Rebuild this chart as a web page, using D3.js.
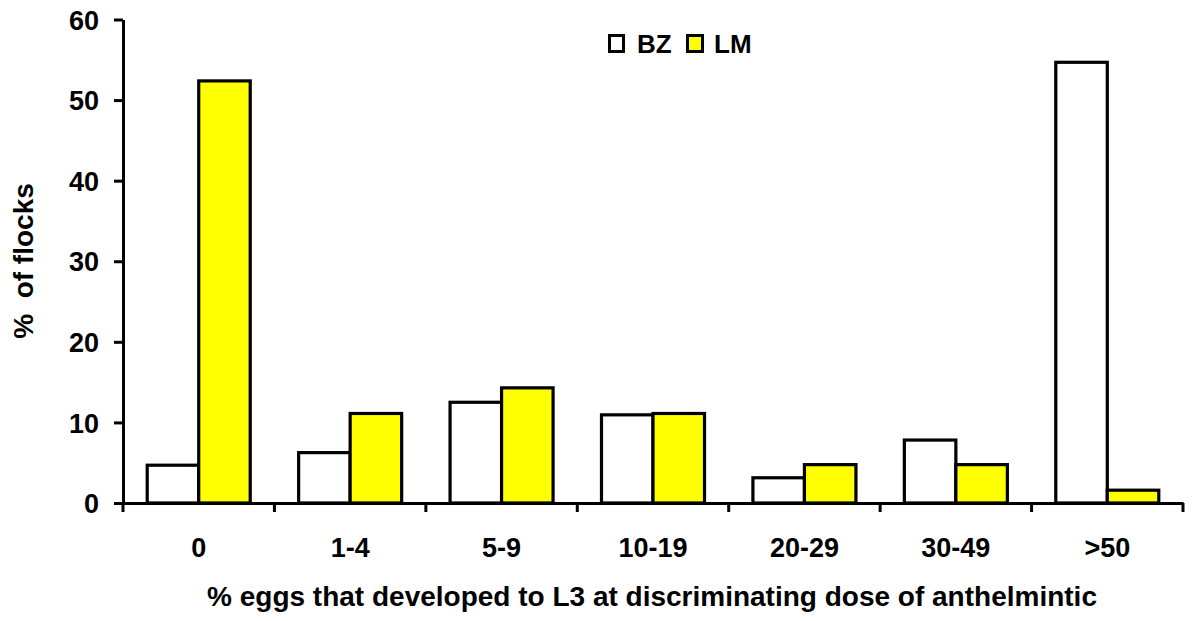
<!DOCTYPE html>
<html><head><meta charset="utf-8">
<script src="https://cdn.jsdelivr.net/npm/d3@7"></script>
<style>
body{margin:0;background:#fff;}
text{font-family:"Liberation Sans",Arial,sans-serif;font-weight:bold;fill:#000;}
</style></head>
<body><svg id="c" width="1200" height="621"></svg>
<script>
const categories = ["0","1-4","5-9","10-19","20-29","30-49",">50"];
const seriesNames = ["BZ","LM"];
const bzValues = [4.69, 6.25, 12.5, 10.94, 3.13, 7.81, 54.69];
const lmValues = [52.38, 11.11, 14.29, 11.11, 4.76, 4.76, 1.59];
const yTicks = [0,10,20,30,40,50,60];
const seriesColors = ["#ffffff","#ffff00"];
const xTitle = "% eggs that developed to L3 at discriminating dose of anthelmintic";
const yTitle = "%  of flocks";

const svg = d3.select("#c");
const x = d3.scaleBand().domain(categories).range([123,1183]).padding(0);
const x1 = d3.scaleBand().domain(seriesNames).range([0,x.bandwidth()]).paddingInner(0).paddingOuter(0.47);
const y = d3.scaleLinear().domain([0,60]).range([503,19.5]);
const color = d3.scaleOrdinal().domain(seriesNames).range(seriesColors);

const data = categories.map((c,i)=>({cat:c, vals:[{s:"BZ",v:bzValues[i]},{s:"LM",v:lmValues[i]}]}));

// bars
const g = svg.append("g");
g.selectAll("g.grp").data(data).join("g").attr("class","grp")
 .attr("transform",d=>`translate(${x(d.cat)},0)`)
 .selectAll("rect").data(d=>d.vals).join("rect")
 .attr("x",d=>x1(d.s)).attr("width",x1.bandwidth())
 .attr("y",d=>y(d.v)).attr("height",d=>y(0)-y(d.v))
 .attr("fill",d=>color(d.s)).attr("stroke","#000").attr("stroke-width",3.2);

// y axis
const yAxis = svg.append("g").attr("transform","translate(123,0)")
 .call(d3.axisLeft(y).tickValues(yTicks).tickSize(9).tickSizeOuter(0).tickPadding(15));
yAxis.select(".domain").attr("stroke","#000").attr("stroke-width",3);
yAxis.selectAll(".tick line").attr("stroke","#000").attr("stroke-width",3);
yAxis.selectAll(".tick text").style("font-size","27px").attr("dy","0.36em");

// x axis
const xAxis = svg.append("g").attr("transform",`translate(0,${y(0)})`)
 .call(d3.axisBottom(x).tickSize(0).tickSizeOuter(0).tickPadding(35));
xAxis.select(".domain").attr("stroke","#000").attr("stroke-width",3);
xAxis.selectAll(".tick text").style("font-size","27px");
const bounds = categories.map(c=>x(c)).concat([x.range()[1]]);
xAxis.selectAll("line.bt").data(bounds).join("line").attr("class","bt")
 .attr("x1",d=>d).attr("x2",d=>d).attr("y1",0).attr("y2",9)
 .attr("stroke","#000").attr("stroke-width",3);

// titles
svg.append("text").attr("x",652).attr("y",606).attr("text-anchor","middle")
 .style("font-size","28px").text(xTitle);
svg.append("text").attr("transform","translate(33,261) rotate(-90)").attr("text-anchor","middle")
 .style("font-size","28px").style("white-space","pre").text(yTitle);

// legend
const leg = svg.append("g");
const legItems = [{s:"BZ",bx:609.5,bw:14,tx:637},{s:"LM",bx:687.5,bw:15,tx:714}];
legItems.forEach(it=>{
  leg.append("rect").attr("x",it.bx).attr("y",35.5).attr("width",it.bw).attr("height",16)
   .attr("fill",color(it.s)).attr("stroke","#000").attr("stroke-width",3);
  leg.append("text").attr("x",it.tx).attr("y",53).style("font-size","26px").text(it.s);
});
</script></body></html>
